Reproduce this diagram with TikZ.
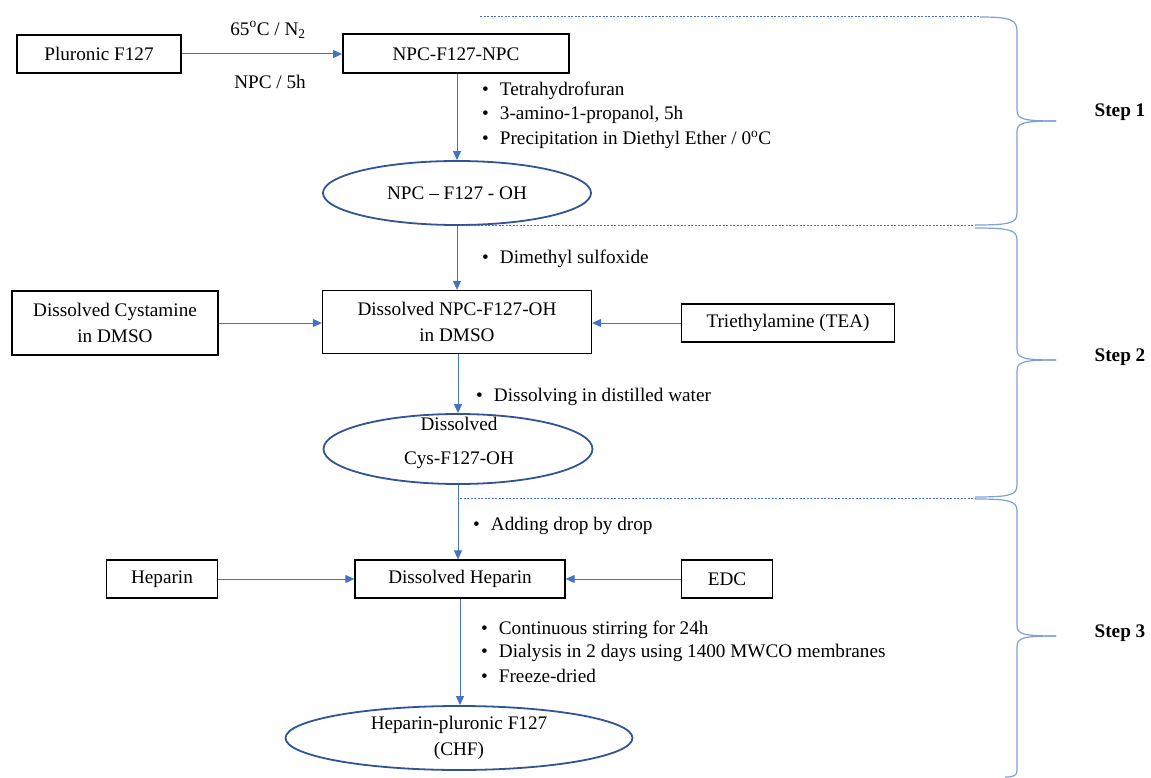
\documentclass[tikz,border=0pt]{standalone}
\usepackage{fontspec}
\setmainfont{Liberation Serif}
\usetikzlibrary{arrows.meta,shapes.geometric}
\definecolor{arrblue}{HTML}{4472C4}
\definecolor{ellblue}{HTML}{2F5597}
\definecolor{brblue}{HTML}{7F9FD8}
\begin{document}
\begin{tikzpicture}[x=1pt,y=-1pt,
  every node/.style={font=\fontsize{19.2}{26}\selectfont, inner sep=0pt},
  box/.style={draw=black, line width=1.3pt, align=center},
  thickbox/.style={draw=black, line width=2pt, align=center},
  oval/.style={ellipse, draw=ellblue, line width=1.8pt, align=center},
  arr/.style={draw=arrblue, line width=1pt, -{Triangle[length=9pt,width=8pt]}},
  sep/.style={draw=arrblue, line width=1pt, dash pattern=on 2pt off 1.5pt},
  brace/.style={draw=brblue, line width=1.2pt},
  item/.style={anchor=west},
  steplbl/.style={font=\fontsize{19.2}{26}\selectfont\bfseries}]
\useasboundingbox (0,0) rectangle (1151,778);
% ---- Step 1
\node[box, minimum width=164pt, minimum height=38pt] (plu) at (99,54) {Pluronic F127};
\node[thickbox, minimum width=226pt, minimum height=39pt] (npc) at (456,54) {NPC-F127-NPC};
\draw[arr] (plu.east) -- (npc.west);
\node (lab1) at (268,30) {65\textsuperscript{o}C / N\textsubscript{2}};
\node (lab2) at (270,82) {NPC / 5h};
\node[oval, minimum width=268pt, minimum height=64pt] (e1) at (457,193) {NPC -- F127 - OH};
\draw[arr] (npc.south -| e1.north) -- (e1.north);
\node[item] (b11) at (482,91) {\textbullet\hspace{11pt}Tetrahydrofuran};
\node[item] (b12) at (482,115) {\textbullet\hspace{11pt}3-amino-1-propanol, 5h};
\node[item] (b13) at (482,140) {\textbullet\hspace{11pt}Precipitation in Diethyl Ether / 0\textsuperscript{o}C};
% ---- Step 2
\node[box, minimum width=269pt, minimum height=63pt] (dnpc) at (457,322) {Dissolved NPC-F127-OH\\in DMSO};
\node[box, minimum width=206pt, minimum height=64pt] (cys) at (115,323) {Dissolved Cystamine\\in DMSO};
\node[box, minimum width=213pt, minimum height=38pt] (tea) at (788,323) {Triethylamine (TEA)};
\draw[arr] (e1.south) -- (e1.south |- dnpc.north);
\node[item] (b21) at (482,259) {\textbullet\hspace{11pt}Dimethyl sulfoxide};
\draw[arr] (cys.east) -- (cys.east -| dnpc.west);
\draw[arr] (tea.west) -- (tea.west -| dnpc.east);
\node[oval, minimum width=269pt, minimum height=70pt] (e2) at (458,449) {};
\node[align=center] (e2t) at (459,443) {Dissolved\\[8pt]Cys-F127-OH};
\draw[arr] (dnpc.south -| e2.north) -- (e2.north);
\node[item] (b22) at (476,397) {\textbullet\hspace{11pt}Dissolving in distilled water};
% ---- Step 3
\node[box, minimum width=210pt, minimum height=38pt] (dhep) at (460,579) {Dissolved Heparin};
\node[box, minimum width=111pt, minimum height=38pt] (hep) at (162,579) {Heparin};
\node[box, minimum width=91pt, minimum height=38pt] (edc) at (727,579) {EDC};
\draw[arr] (e2.south) -- (e2.south |- dhep.north);
\node[item] (b31) at (473,526) {\textbullet\hspace{11pt}Adding drop by drop};
\draw[arr] (hep.east) -- (dhep.west);
\draw[arr] (edc.west) -- (dhep.east);
\node[oval, minimum width=347pt, minimum height=64pt] (e3) at (459,738) {Heparin-pluronic F127\\(CHF)};
\draw[arr] (dhep.south) -- (dhep.south |- e3.north);
\node[item] (b32) at (481,630) {\textbullet\hspace{11pt}Continuous stirring for 24h};
\node[item] (b33) at (481,653) {\textbullet\hspace{11pt}Dialysis in 2 days using 1400 MWCO membranes};
\node[item] (b34) at (481,676) {\textbullet\hspace{11pt}Freeze-dried};
% ---- separators
\coordinate (s1a) at (480,17);  \coordinate (s1b) at (980,17);
\coordinate (s2a) at (460,226); \coordinate (s2b) at (975,226);
\coordinate (s3a) at (460,498); \coordinate (s3b) at (975,498);
\draw[sep] (s1a) -- (s1b);
\draw[sep] (s2a) -- (s2b);
\draw[sep] (s3a) -- (s3b);
% ---- braces
\draw[brace] (980,17) .. controls (1012,17) and (1017,20) .. (1017,32)
  -- (1017,110) .. controls (1017,119) and (1022,121) .. (1056,121);
\draw[brace] (1056,121) .. controls (1022,121) and (1017,123) .. (1017,132)
  -- (1017,213) .. controls (1017,223) and (1010,225) .. (975,225);
\draw[brace] (975,228) .. controls (1010,228) and (1017,230) .. (1017,240)
  -- (1017,349) .. controls (1017,358) and (1022,360) .. (1056,360);
\draw[brace] (1056,360) .. controls (1022,360) and (1017,362) .. (1017,371)
  -- (1017,485) .. controls (1017,495) and (1010,497) .. (975,497);
\draw[brace] (975,499) .. controls (1010,499) and (1017,501) .. (1017,511)
  -- (1017,625) .. controls (1017,634) and (1022,636) .. (1056,636);
\draw[brace] (1056,636) .. controls (1022,636) and (1017,638) .. (1017,647)
  -- (1017,770) .. controls (1017,775) and (1015,777) .. (1005,777);
\node[steplbl] (st1) at (1120,112) {Step 1};
\node[steplbl] (st2) at (1120,357) {Step 2};
\node[steplbl] (st3) at (1120,633) {Step 3};
\end{tikzpicture}
\end{document}
